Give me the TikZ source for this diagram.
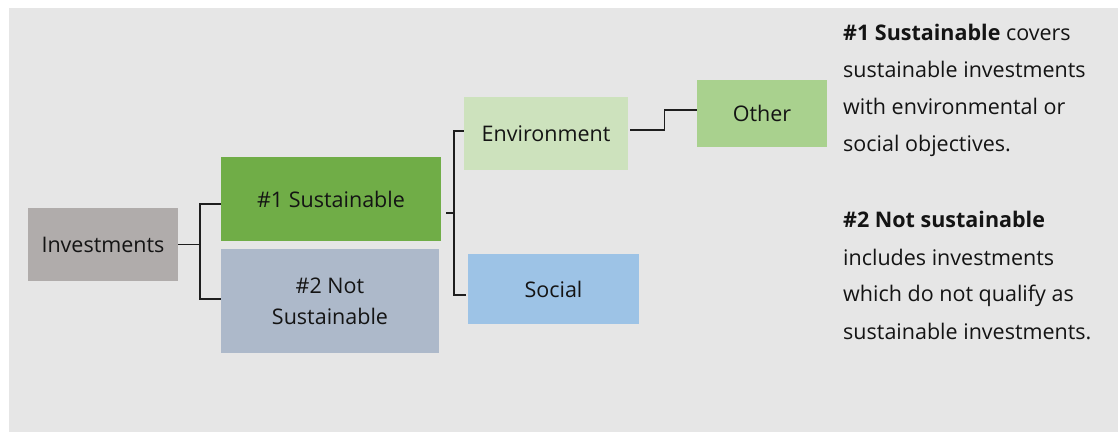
\documentclass[tikz,border=0pt]{standalone}
\usepackage{fontspec}
\setmainfont{Open Sans}
\usetikzlibrary{calc}
\definecolor{bgc}{HTML}{E6E6E6}
\definecolor{invc}{HTML}{B0ACAB}
\definecolor{sone}{HTML}{70AD47}
\definecolor{stwo}{HTML}{ADB9CA}
\definecolor{envc}{HTML}{CDE2BD}
\definecolor{socc}{HTML}{9DC3E6}
\definecolor{othc}{HTML}{A9D18E}
\definecolor{txt}{HTML}{141414}
\definecolor{linec}{HTML}{1E1E1E}
\tikzset{
  boxnode/.style={draw=none, inner sep=0pt, align=center, text=txt,
    font=\fontsize{21.5}{30.7}\selectfont},
  conn/.style={draw=linec, line width=1.4pt},
  desc/.style={anchor=base west, inner sep=0pt, text=txt,
    font=\fontsize{21.5}{26}\selectfont}
}
\begin{document}
\begin{tikzpicture}[x=1pt,y=-1pt]
\useasboundingbox (0,0) rectangle (1118,432);
\fill[white] (0,0) rectangle (1118,432);
\fill[bgc] (9,8) rectangle (1118,432);

\node[boxnode, fill=invc, minimum width=150pt, minimum height=73pt] (inv) at (103,244.5) {Investments};
\node[boxnode, fill=sone, minimum width=220pt, minimum height=84pt] (s1) at (331,199) {\#1 Sustainable};
\node[boxnode, fill=stwo, minimum width=218pt, minimum height=104pt] (s2) at (330,301) {\#2 Not\\Sustainable};
\node[boxnode, fill=envc, minimum width=164pt, minimum height=73pt] (env) at (546,133.5) {Environment};
\node[boxnode, fill=socc, minimum width=171pt, minimum height=70pt] (soc) at (553.5,289) {Social};
\node[boxnode, fill=othc, minimum width=130pt, minimum height=67pt] (oth) at (762,113.5) {Other};

% Investments -> #1 / #2
\draw[conn] (inv.east) -- ++(22,0);
\draw[conn] ($(s1.west)+(0,5)$) -- ++(-21,0) |- ($(s2.west)+(0,-2)$);

% #1 -> Environment / Social
\draw[conn] ($(s1.east)+(5,14)$) -- ++(8,0);
\draw[conn] ($(env.west)+(0,-2.5)$) -- ++(-10,0) |- ($(soc.west)+(-2,6)$);

% Environment -> Other
\draw[conn] ($(env.east)+(2,-3.5)$) -- ++(34,0) |- ($(oth.west)+(0,-3.5)$);

% description text
\node[desc] (t1) at (843,40.7) {\textbf{\#1 Sustainable} covers};
\node[desc] (t2) at (843,77.5) {sustainable investments};
\node[desc] (t3) at (843,114.3) {with environmental or};
\node[desc] (t4) at (843,151.3) {social objectives.};
\node[desc] (t5) at (843,227.8) {\textbf{\#2 Not sustainable}};
\node[desc] (t6) at (843,265) {includes investments};
\node[desc] (t7) at (843,301.8) {which do not qualify as};
\node[desc] (t8) at (843,339.5) {sustainable investments.};
\end{tikzpicture}
\end{document}
